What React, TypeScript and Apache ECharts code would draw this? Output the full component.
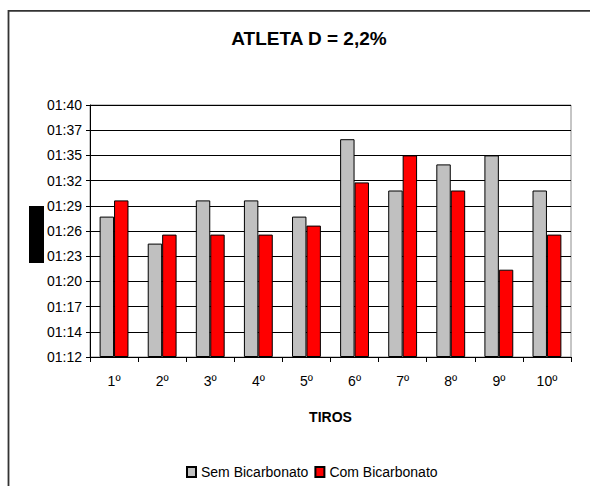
import React, { useEffect, useRef } from "react";
import * as echarts from "echarts";

const categories = ["1º", "2º", "3º", "4º", "5º", "6º", "7º", "8º", "9º", "10º"];
// times in seconds (mm:ss -> seconds)
const semBicarbonato = [87.6, 84.6, 89.4, 89.4, 87.6, 96.2, 90.5, 93.4, 94.4, 90.5];
const comBicarbonato = [89.4, 85.6, 85.6, 85.6, 86.6, 91.4, 94.4, 90.5, 81.7, 85.6];
const yTickLabels = ["01:12", "01:14", "01:17", "01:20", "01:23", "01:26", "01:29", "01:32", "01:35", "01:37", "01:40"];
const yMinSeconds = 72;
const yMaxSeconds = 100;
const seriesNames = ["Sem Bicarbonato", "Com Bicarbonato"];
const titleText = "ATLETA D = 2,2%";
const xAxisTitle = "TIROS";

const FONT = "'Liberation Sans', Arial, sans-serif";

export default function App() {
  const ref = useRef<HTMLDivElement>(null);
  useEffect(() => {
    if (!ref.current) return;
    const chart = echarts.init(ref.current, undefined, { renderer: "svg" });
    const steps = yTickLabels.length - 1;
    const stepSec = (yMaxSeconds - yMinSeconds) / steps;
    const toIdx = (s: number) => (s - yMinSeconds) / stepSec;
    chart.setOption({
      animation: false,
      backgroundColor: "#fff",
      textStyle: { fontFamily: FONT, color: "#000" },
      graphic: [
        {
          type: "rect",
          z: -10,
          shape: { x: 8.5, y: 10.8, width: 1000, height: 1000 },
          style: { fill: "none", stroke: "#333", lineWidth: 1.8 },
        },
        {
          type: "rect",
          shape: { x: 29, y: 206, width: 15, height: 57 },
          style: { fill: "#000" },
        },
        {
          type: "text",
          x: 309,
          y: 38,
          style: {
            text: titleText,
            align: "center",
            verticalAlign: "middle",
            font: `bold 19px ${FONT}`,
            fill: "#000",
          },
        },
      ],
      grid: {
        left: 90,
        top: 105,
        width: 481,
        height: 252,
        show: true,
        borderColor: "#8c8c8c",
        borderWidth: 1,
        backgroundColor: "transparent",
      },
      legend: {
        left: 186,
        top: 465,
        padding: 0,
        itemWidth: 9,
        itemHeight: 10,
        itemGap: 6,
        icon: "rect",
        textStyle: { fontFamily: FONT, fontSize: 14, color: "#000" },
        data: seriesNames,
      },
      xAxis: {
        type: "category",
        data: categories,
        name: xAxisTitle,
        nameLocation: "middle",
        nameGap: 53,
        nameTextStyle: { fontFamily: FONT, fontSize: 14, fontWeight: "bold", color: "#000" },
        axisLine: { lineStyle: { color: "#000", width: 1 } },
        axisTick: { show: true, length: 5, lineStyle: { color: "#000" } },
        axisLabel: { fontFamily: FONT, fontSize: 14, color: "#000", margin: 17 },
        splitLine: { show: false },
      },
      yAxis: {
        type: "value",
        min: 0,
        max: steps,
        interval: 1,
        axisLine: { show: true, lineStyle: { color: "#000", width: 1 } },
        axisTick: { show: true, length: 4, lineStyle: { color: "#000" } },
        axisLabel: {
          fontFamily: FONT,
          fontSize: 14,
          color: "#000",
          margin: 8,
          formatter: (v: number) => yTickLabels[Math.round(v)] ?? "",
        },
        splitLine: { show: true, lineStyle: { color: "#000", width: 1 } },
      },
      series: [
        {
          name: seriesNames[0],
          type: "bar",
          barGap: "0%",
          barCategoryGap: "40%",
          data: semBicarbonato.map(toIdx),
          itemStyle: { color: "#c0c0c0", borderColor: "#000", borderWidth: 1 },
        },
        {
          name: seriesNames[1],
          type: "bar",
          barGap: "0%",
          barCategoryGap: "40%",
          data: comBicarbonato.map(toIdx),
          itemStyle: { color: "#ff0000", borderColor: "#000", borderWidth: 1 },
        },
      ],
    });
    return () => chart.dispose();
  }, []);
  return (
    <div
      ref={ref}
      style={{ position: "fixed", left: 0, top: 0, width: 590, height: 486, background: "#fff" }}
    />
  );
}
